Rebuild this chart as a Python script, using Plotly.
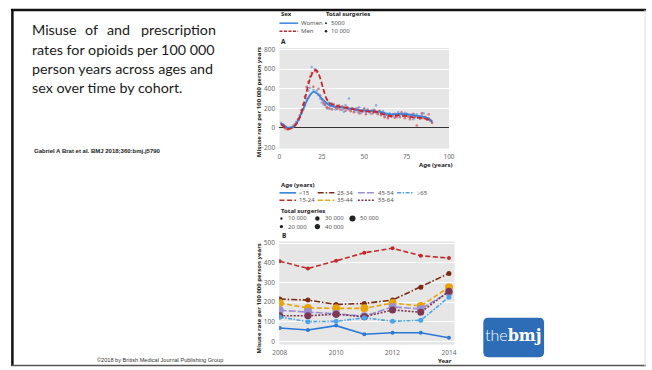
import plotly.graph_objects as go

W, H = 652, 370

# ---------------- Panel A: misuse rate by age and sex ----------------
ages = list(range(1, 91))
women_rate = [50, 30, 15, 5, 0, 5, 10, 20, 30, 55, 80, 110, 150, 190, 230, 300, 380, 410, 620, 390,
              600, 380, 340, 300, 260, 240, 230, 200, 260, 195, 250, 215, 190, 225, 200, 215, 185, 165, 230, 190,
              300, 180, 200, 170, 195, 165, 210, 150, 180, 200, 160, 190, 170, 145, 185, 160, 230, 150, 175, 140,
              170, 120, 135, 115, 150, 130, 125, 145, 110, 160, 135, 140, 120, 155, 145, 130, 110, 135, 90, 125,
              140, 115, 100, 130, 150, 110, 95, 100, 70, 60]
men_rate = [40, 20, 0, -10, -15, -5, 5, 10, 35, 60, 90, 130, 180, 240, 320, 420, 470, 520, 560, 420,
            580, 570, 400, 330, 290, 260, 240, 210, 200, 225, 190, 240, 210, 195, 230, 185, 220, 200, 175, 210,
            190, 170, 200, 160, 185, 200, 150, 175, 165, 190, 140, 180, 160, 175, 150, 185, 160, 140, 170, 130,
            150, 110, 140, 100, 125, 115, 140, 105, 120, 135, 110, 160, 125, 100, 140, 115, 90, 120, 145, 110,
            25, 120, 95, 150, 100, 115, 85, 140, 80, 50]

# smoothed trends
women_fit_age = [1, 2, 4, 5, 6, 8, 10, 12, 14, 16, 18, 20, 22, 25, 28, 30, 35, 40, 45, 50, 55, 60, 65, 70, 75, 80, 85, 88, 90]
women_fit = [45, 37, 10, 0, -2, 8, 45, 115, 190, 270, 335, 368, 355, 300, 250, 228, 215, 203, 188, 177, 172, 162, 140, 143, 140, 127, 113, 97, 65]
men_fit_age = [1, 2, 4, 5, 6, 8, 10, 12, 14, 16, 18, 20, 21, 22, 23, 24, 26, 28, 30, 35, 40, 45, 50, 55, 58, 60, 65, 70, 75, 80, 85, 90]
men_fit = [35, 25, -5, -10, -8, 5, 40, 110, 220, 370, 500, 575, 590, 585, 555, 510, 390, 290, 250, 218, 205, 185, 170, 168, 162, 148, 122, 128, 122, 105, 100, 70]

# ---------------- Panel B: misuse rate by year and age group ----------------
years = [2008, 2009, 2010, 2011, 2012, 2013, 2014]
age_groups = ["<15", "15-24", "25-34", "35-44", "45-54", "55-64", "≥65"]
rate_lt15 = [68, 58, 80, 36, 44, 44, 18]
rate_15_24 = [408, 371, 410, 451, 474, 436, 424]
rate_25_34 = [215, 210, 188, 193, 210, 276, 346]
rate_35_44 = [195, 170, 168, 168, 195, 180, 276]
rate_45_54 = [158, 150, 140, 128, 175, 165, 250]
rate_55_64 = [130, 130, 138, 125, 160, 148, 255]
rate_ge65 = [124, 100, 102, 120, 102, 107, 225]
group_rates = [rate_lt15, rate_15_24, rate_25_34, rate_35_44, rate_45_54, rate_55_64, rate_ge65]

group_style = {
    "<15":   dict(color="#2b78d6", dash="solid", size=4),
    "15-24": dict(color="#c22a2a", dash="5px,2.5px", size=4),
    "25-34": dict(color="#7b2a12", dash="6px,2px,1.5px,2px", size=5),
    "35-44": dict(color="#e8a30c", dash="5px,2.5px", size=8),
    "45-54": dict(color="#9a8fd0", dash="7px,2px", size=8),
    "55-64": dict(color="#7e3752", dash="2px,1.5px", size=7),
    "≥65":   dict(color="#4fa3e8", dash="4px,1.5px,1.5px,1.5px", size=5),
}


def px(x):
    return x / W


def py(y):
    return 1 - y / H


FONT = "Noto Sans"
TICK = dict(family=FONT, size=6.5, color="#6a6a6a")

fig = go.Figure()

# Panel A traces
fig.add_trace(go.Scatter(x=ages, y=women_rate, mode="markers", xaxis="x", yaxis="y",
                         marker=dict(size=2.6, color="#6f9fe2", opacity=0.75), showlegend=False))
fig.add_trace(go.Scatter(x=ages, y=men_rate, mode="markers", xaxis="x", yaxis="y",
                         marker=dict(size=2.6, color="#d0575a", opacity=0.75), showlegend=False))
fig.add_trace(go.Scatter(x=women_fit_age, y=women_fit, mode="lines", xaxis="x", yaxis="y",
                         line=dict(color="#3a82dc", width=1.8, shape="spline", smoothing=0.9),
                         showlegend=False))
fig.add_trace(go.Scatter(x=men_fit_age, y=men_fit, mode="lines", xaxis="x", yaxis="y",
                         line=dict(color="#c0282d", width=1.8, dash="5px,2.5px", shape="spline", smoothing=0.9),
                         showlegend=False))

# Panel B traces
for name, vals in zip(age_groups, group_rates):
    st = group_style[name]
    fig.add_trace(go.Scatter(x=years, y=vals, mode="lines+markers", xaxis="x2", yaxis="y2",
                             line=dict(color=st["color"], width=1.6, dash=st["dash"]),
                             marker=dict(size=st["size"], color=st["color"]),
                             name=name, showlegend=False))

axis_common = dict(showline=False, ticks="outside", ticklen=2, tickcolor="rgba(0,0,0,0)",
                   tickfont=TICK, fixedrange=True)

fig.update_layout(
    width=W, height=H, margin=dict(l=0, r=0, t=0, b=0),
    paper_bgcolor="white", plot_bgcolor="#e6e6e6",
    font=dict(family=FONT, size=6, color="#333"),
    xaxis=dict(domain=[px(278), px(451)], range=[0, 100], tickvals=[0, 25, 50, 75, 100],
               showgrid=False, zeroline=False, anchor="y", **axis_common),
    yaxis=dict(domain=[py(148), py(45.7)], range=[-210, 815], tickvals=[-200, 0, 200, 400, 600, 800],
               showgrid=True, gridcolor="white", gridwidth=1,
               zeroline=True, zerolinecolor="#333333", zerolinewidth=1.2, anchor="x", **axis_common),
    xaxis2=dict(domain=[px(277.7), px(456.7)], range=[2007.98, 2014.2], tickvals=[2008, 2010, 2012, 2014],
                showgrid=False, zeroline=False, anchor="y2", **axis_common),
    yaxis2=dict(domain=[py(347.3), py(242.3)], range=[-17, 509], tickvals=[0, 100, 200, 300, 400, 500],
                showgrid=True, gridcolor="white", gridwidth=1, zeroline=False, anchor="x2", **axis_common),
)

ann = []
shapes = []


def text(x, y, s, size=6, color="#555555", bold=False, anchor="left", family=FONT, angle=0):
    ann.append(dict(x=px(x), y=py(y), xref="paper", yref="paper", text=f"<b>{s}</b>" if bold else s,
                    showarrow=False, xanchor=anchor, yanchor="middle", textangle=angle,
                    font=dict(size=size, color=color, family=family)))


def hline(x0, x1, y, color, dash="solid", width=1.5):
    shapes.append(dict(type="line", xref="paper", yref="paper", x0=px(x0), x1=px(x1), y0=py(y), y1=py(y),
                       line=dict(color=color, width=width, dash=dash)))


def dot(x, y, d, color="#222222"):
    shapes.append(dict(type="circle", xref="paper", yref="paper", x0=px(x - d / 2), x1=px(x + d / 2),
                       y0=py(y + d / 2), y1=py(y - d / 2), fillcolor=color, line=dict(width=0)))


# slide frame
shapes.append(dict(type="line", xref="paper", yref="paper", x0=px(4), x1=1, y0=py(7), y1=py(7),
                   line=dict(color="#111111", width=2.5)))
shapes.append(dict(type="line", xref="paper", yref="paper", x0=px(5.5), x1=px(5.5), y0=py(6), y1=py(369),
                   line=dict(color="#111111", width=2.5)))
shapes.append(dict(type="line", xref="paper", yref="paper", x0=px(4), x1=1, y0=py(368.5), y1=py(368.5),
                   line=dict(color="#555555", width=1.5)))
shapes.append(dict(type="line", xref="paper", yref="paper", x0=px(651), x1=px(651), y0=py(7), y1=py(369),
                   line=dict(color="#dddddd", width=1)))

# slide title text (justified block)
TF = "Lato"
TS = 14.3
text(23, 27, "Misuse", TS, "#1a1a1a", family=TF)
text(77.5, 27, "of", TS, "#1a1a1a", family=TF)
text(100, 27, "and", TS, "#1a1a1a", family=TF)
text(215, 27, "prescription", TS, "#1a1a1a", family=TF, anchor="right")
text(23, 47, "rates for opioids per 100 000", TS, "#1a1a1a", family=TF)
text(23, 67, "person years across ages and", TS, "#1a1a1a", family=TF)
text(23, 86, "sex over time by cohort.", TS, "#1a1a1a", family=TF)
text(25, 150, "<b>Gabriel A Brat et al. BMJ 2018;360:bmj.j5790</b>", 6, "#222222", family="Liberation Sans")
text(90, 363, "©2018 by British Medical Journal Publishing Group", 5.6, "#333333", family="Liberation Sans")

# panel A legend
text(278, 11, "Sex", 6, "#222222", bold=True)
text(323, 11, "Total surgeries", 6, "#222222", bold=True)
hline(278, 297, 20.5, "#3a82dc", width=1.5)
hline(278, 297, 28.7, "#c0282d", dash="3px,1.5px", width=1.5)
text(298, 20.5, "Women", 6)
text(298, 28.7, "Men", 6)
dot(325.5, 20.5, 2)
dot(325.5, 28.7, 2.6)
text(329, 20.5, "5000", 6)
text(329, 28.7, "10 000", 6)
text(278, 39, "A", 6.5, "#222222", bold=True)

# panel A axis titles
text(258, 101, "Misuse rate per 100 000 person years", 6, "#222222", bold=True, anchor="center", angle=-90)
text(456, 165, "Age (years)", 6, "#222222", bold=True, anchor="right")

# panel B legend
text(278, 185, "Age (years)", 6, "#222222", bold=True)
legend_pos = {
    "<15": (278, 193), "25-34": (317, 193), "45-54": (358, 193), "≥65": (398, 193),
    "15-24": (278, 200.5), "35-44": (317, 200.5), "55-64": (358, 200.5),
}
for name in age_groups:
    x0, y0 = legend_pos[name]
    st = group_style[name]
    hline(x0, x0 + 17, y0, st["color"], dash=st["dash"], width=1.5)
    text(x0 + 18, y0, name.replace("<", "&lt;"), 6)
text(278, 211, "Total surgeries", 6, "#222222", bold=True)
surg_pos = [("10 000", 280, 219, 2.4), ("30 000", 316.7, 219, 4.6), ("50 000", 352.5, 219, 6.2),
            ("20 000", 280, 227.3, 3.4), ("40 000", 316.7, 227.3, 5.4)]
for lab, x0, y0, d in surg_pos:
    dot(x0, y0, d)
    text(x0 + 3 + d / 2, y0, lab, 6)
text(279, 236.5, "B", 6.5, "#222222", bold=True)

# panel B axis titles
text(257.5, 300, "Misuse rate per 100 000 person years", 6, "#222222", bold=True, anchor="center", angle=-90)
text(456, 364, "Year", 6, "#222222", bold=True, anchor="right")

# journal logo
r = 5
x0, x1, y0, y1 = 486, 548, 320, 360
path = (f"M {px(x0 + r)},{py(y0)} L {px(x1 - r)},{py(y0)} Q {px(x1)},{py(y0)} {px(x1)},{py(y0 + r)} "
        f"L {px(x1)},{py(y1 - r)} Q {px(x1)},{py(y1)} {px(x1 - r)},{py(y1)} "
        f"L {px(x0 + r)},{py(y1)} Q {px(x0)},{py(y1)} {px(x0)},{py(y1 - r)} "
        f"L {px(x0)},{py(y0 + r)} Q {px(x0)},{py(y0)} {px(x0 + r)},{py(y0)} Z")
shapes.append(dict(type="path", xref="paper", yref="paper", path=path, fillcolor="#2d6db7",
                   line=dict(width=0)))
ann.append(dict(x=px(517), y=py(337), xref="paper", yref="paper", showarrow=False,
                xanchor="center", yanchor="middle",
                text="<span style='font-family:Lato;font-weight:300'>the</span>"
                     "<span style='font-family:DejaVu Serif;font-weight:bold'>bmj</span>",
                font=dict(size=16, color="white")))

fig.update_layout(annotations=ann, shapes=shapes)
fig.write_html("out.html")
